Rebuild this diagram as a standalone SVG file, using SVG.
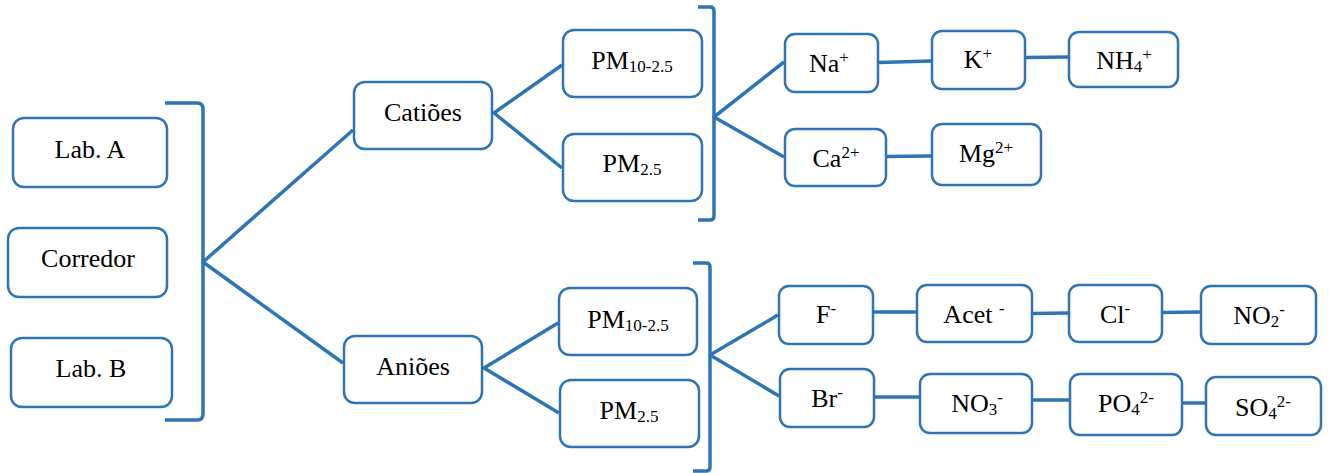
<svg xmlns="http://www.w3.org/2000/svg" width="1329" height="473" viewBox="0 0 1329 473">
  <style>
    .box { fill: #ffffff; stroke: #2E75B6; stroke-width: 2.5; }
    .ln { fill: none; stroke: #2E75B6; stroke-width: 3.5; stroke-linejoin: round; }
    .t { font-family: "Liberation Serif", "Times New Roman", serif; font-size: 26px; fill: #000000; text-anchor: middle; }
    .s { font-size: 17px; }
  </style>
  <rect width="1329" height="473" fill="#ffffff"/>

  <!-- connectors: brackets, branch lines and chain links -->
  <g id="connectors">
    <path class="ln" d="M165,103 H197 Q203,103 203,109 V414 Q203,420 197,420 H165"/>
    <path class="ln" d="M353,130 L203,262 L343,363"/>
    <path class="ln" d="M562,65 L494,113 L562,168"/>
    <path class="ln" d="M698,7 H710 Q714,7 714,11 V216 Q714,220 710,220 H698"/>
    <path class="ln" d="M784,62 L714,117 L784,157"/>
    <path class="ln" d="M558,323 L484,368 L559,413"/>
    <path class="ln" d="M693,263 H706 Q710,263 710,267 V467 Q710,471 706,471 H693"/>
    <path class="ln" d="M778,315 L710,355 L779,396"/>
    <line class="ln" x1="879" y1="62.5" x2="931" y2="61"/>
    <line class="ln" x1="1026" y1="57.5" x2="1068" y2="57"/>
    <line class="ln" x1="887" y1="156.5" x2="931" y2="156"/>
    <line class="ln" x1="874" y1="312" x2="916" y2="312"/>
    <line class="ln" x1="1033" y1="313.5" x2="1068" y2="313"/>
    <line class="ln" x1="1163" y1="312.5" x2="1200" y2="312"/>
    <line class="ln" x1="875" y1="397" x2="919" y2="397"/>
    <line class="ln" x1="1033" y1="400" x2="1069" y2="400"/>
    <line class="ln" x1="1183" y1="403" x2="1205" y2="403"/>
  </g>

  <!-- sampling sites -->
  <g id="lab-a"><rect class="box" x="13" y="118" width="154" height="69" rx="11"/><text class="t" x="90" y="158">Lab. A</text></g>
  <g id="corredor"><rect class="box" x="8" y="228" width="159" height="69" rx="11"/><text class="t" x="88" y="267">Corredor</text></g>
  <g id="lab-b"><rect class="box" x="11" y="338" width="161" height="69" rx="11"/><text class="t" x="91" y="377">Lab. B</text></g>

  <!-- ion groups -->
  <g id="catioes"><rect class="box" x="354" y="82" width="138" height="67" rx="11"/><text class="t" x="423" y="121">Catiões</text></g>
  <g id="anioes"><rect class="box" x="344" y="336" width="138" height="67" rx="11"/><text class="t" x="413" y="375">Aniões</text></g>

  <!-- particle fractions -->
  <g id="cat-pm10"><rect class="box" x="563" y="30" width="139" height="67" rx="11"/><text class="t" x="632" y="69">PM<tspan class="s" dy="3">10-2.5</tspan></text></g>
  <g id="cat-pm25"><rect class="box" x="563" y="134" width="139" height="67" rx="11"/><text class="t" x="632" y="172">PM<tspan class="s" dy="3">2.5</tspan></text></g>
  <g id="an-pm10"><rect class="box" x="559" y="288" width="138" height="67" rx="11"/><text class="t" x="628" y="328">PM<tspan class="s" dy="3">10-2.5</tspan></text></g>
  <g id="an-pm25"><rect class="box" x="560" y="380" width="139" height="67" rx="11"/><text class="t" x="629" y="419">PM<tspan class="s" dy="3">2.5</tspan></text></g>

  <!-- cations -->
  <g id="na"><rect class="box" x="785" y="34" width="93" height="58" rx="10"/><text class="t" x="829" y="72">Na<tspan class="s" dy="-9">+</tspan></text></g>
  <g id="k"><rect class="box" x="932" y="31" width="93" height="58" rx="10"/><text class="t" x="978" y="68">K<tspan class="s" dy="-9">+</tspan></text></g>
  <g id="nh4"><rect class="box" x="1069" y="32" width="109" height="55" rx="10"/><text class="t" x="1124" y="69">NH<tspan class="s" dy="3">4</tspan><tspan class="s" dy="-12">+</tspan></text></g>
  <g id="ca"><rect class="box" x="785" y="129" width="101" height="57" rx="10"/><text class="t" x="836" y="167">Ca<tspan class="s" dy="-9">2+</tspan></text></g>
  <g id="mg"><rect class="box" x="932" y="124" width="109" height="61" rx="10"/><text class="t" x="986" y="162">Mg<tspan class="s" dy="-9">2+</tspan></text></g>

  <!-- anions -->
  <g id="f"><rect class="box" x="779" y="286" width="94" height="58" rx="10"/><text class="t" x="826" y="323">F<tspan class="s" dy="-9">-</tspan></text></g>
  <g id="acet"><rect class="box" x="917" y="285" width="115" height="57" rx="10"/><text class="t" x="974" y="323">Acet <tspan class="s" dy="-9">-</tspan></text></g>
  <g id="cl"><rect class="box" x="1069" y="285" width="93" height="57" rx="10"/><text class="t" x="1115" y="323">Cl<tspan class="s" dy="-9">-</tspan></text></g>
  <g id="no2"><rect class="box" x="1201" y="286" width="115" height="58" rx="10"/><text class="t" x="1259" y="324">NO<tspan class="s" dy="3">2</tspan><tspan class="s" dy="-12">-</tspan></text></g>
  <g id="br"><rect class="box" x="780" y="369" width="94" height="58" rx="10"/><text class="t" x="827" y="407">Br<tspan class="s" dy="-9">-</tspan></text></g>
  <g id="no3"><rect class="box" x="920" y="374" width="112" height="59" rx="10"/><text class="t" x="977" y="412">NO<tspan class="s" dy="3">3</tspan><tspan class="s" dy="-12">-</tspan></text></g>
  <g id="po4"><rect class="box" x="1070" y="374" width="112" height="61" rx="10"/><text class="t" x="1126" y="412">PO<tspan class="s" dy="3">4</tspan><tspan class="s" dy="-12">2-</tspan></text></g>
  <g id="so4"><rect class="box" x="1206" y="377" width="115" height="58" rx="10"/><text class="t" x="1263" y="416">SO<tspan class="s" dy="3">4</tspan><tspan class="s" dy="-12">2-</tspan></text></g>
</svg>
